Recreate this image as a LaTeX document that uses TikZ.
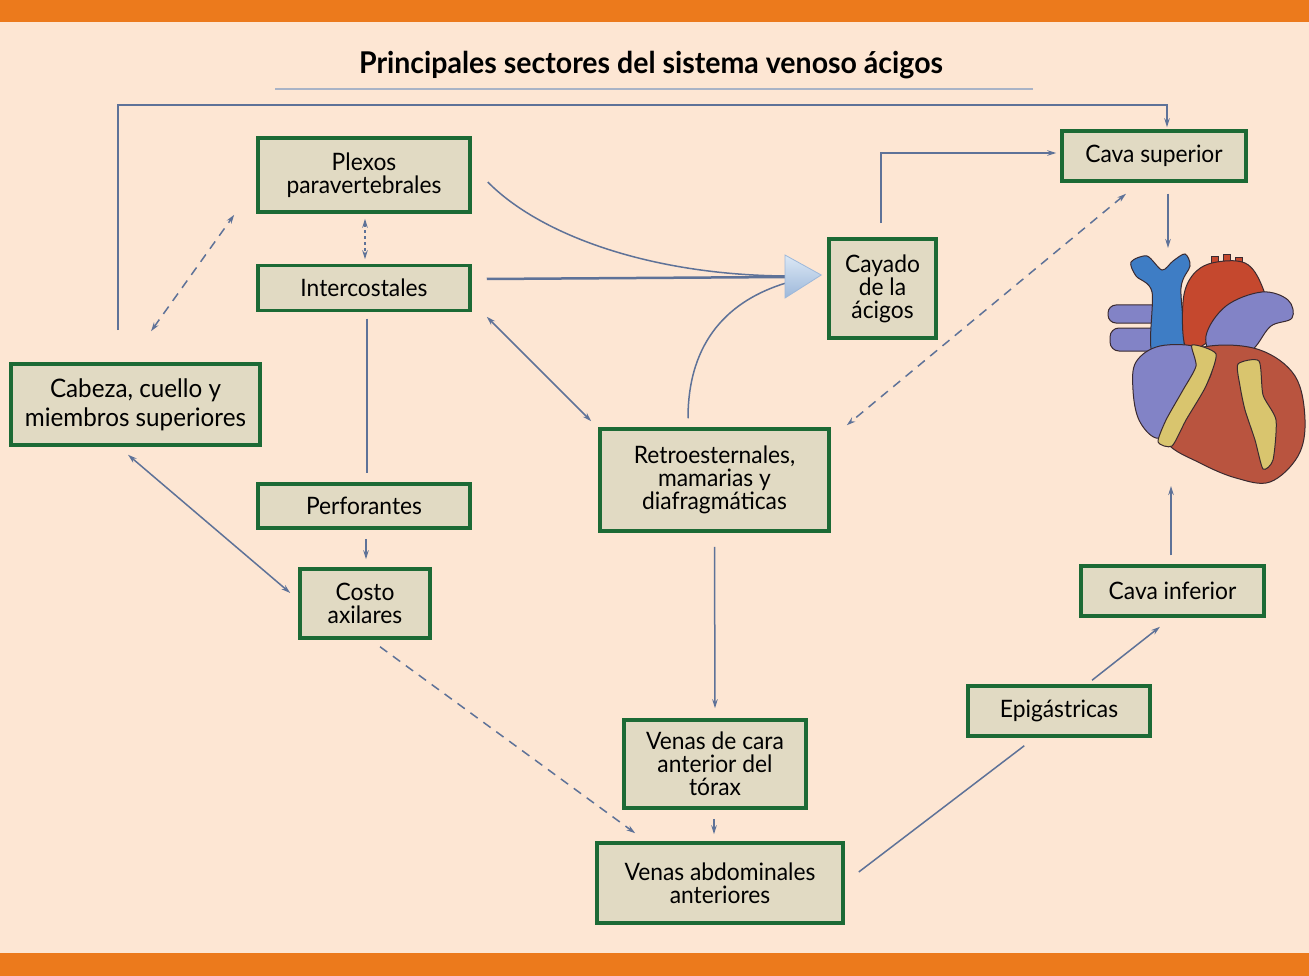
\documentclass[tikz,border=0pt]{standalone}
\usepackage{fontspec}
\setmainfont[FakeStretch=0.95]{Lato}
\usetikzlibrary{arrows.meta}
\definecolor{bgpeach}{HTML}{FDE6D3}
\definecolor{barorange}{HTML}{EC7A1C}
\definecolor{boxfill}{HTML}{E1DAC3}
\definecolor{boxgreen}{HTML}{1C6A35}
\definecolor{linkblue}{HTML}{5E7298}
\definecolor{titleline}{HTML}{A9B3C6}
\definecolor{heartred}{HTML}{B9543F}
\definecolor{aortared}{HTML}{C5482E}
\definecolor{veinblue}{HTML}{3E7DC5}
\definecolor{purp}{HTML}{8283C6}
\definecolor{fat}{HTML}{D9C56E}
\definecolor{outl}{HTML}{3A2A30}
\definecolor{triA}{HTML}{DCE8F5}
\definecolor{triB}{HTML}{9DB8DA}
\begin{document}
\begin{tikzpicture}[x=1pt,y=-1pt,
  box/.style={draw=boxgreen, line width=3.5pt, fill=boxfill, align=center, inner sep=0pt,
    font=\fontsize{24}{23}\selectfont},
  link/.style={draw=linkblue, line width=1.5pt},
  tip/.style={link, -{Stealth[length=9pt,width=5.5pt]}},
  both/.style={link, {Stealth[length=9pt,width=5.5pt]}-{Stealth[length=9pt,width=5.5pt]}},
  dsh/.style={dash pattern=on 9pt off 7pt},
  organ/.style={draw=outl, line width=1pt}]
\fill[bgpeach] (0,0) rectangle (1309,976);
\useasboundingbox (0,0) rectangle (1309,976);
\fill[barorange] (0,0) rectangle (1309,22);
\fill[barorange] (0,953) rectangle (1309,976);

% title
\node (title) at (651,65) {\fontsize{30}{32}\selectfont\bfseries Principales sectores del sistema venoso ácigos};
\draw[titleline, line width=1.2pt] (275,89) -- (1033,89);

% boxes
\node[box, minimum width=212pt, minimum height=74pt] (plexos) at (364,175) {Plexos\\paravertebrales};
\node[box, minimum width=212pt, minimum height=45pt] (inter) at (364,288) {Intercostales};
\node[box, minimum width=249pt, minimum height=81pt, font=\fontsize{25.5}{29}\selectfont] (cabeza) at (135.5,404.5) {Cabeza, cuello y\\miembros superiores};
\node[box, minimum width=212pt, minimum height=44pt] (perf) at (364,506) {Perforantes};
\node[box, minimum width=130pt, minimum height=69pt] (costo) at (365,603.5) {Costo\\axilares};
\node[box, minimum width=229pt, minimum height=102pt] (retro) at (714.5,480) {Retroesternales,\\mamarias y\\diafragmáticas};
\node[box, minimum width=107pt, minimum height=99pt] (cayado) at (882.5,288.5) {Cayado\\de la\\ácigos};
\node[box, minimum width=184pt, minimum height=50pt] (cavasup) at (1154,156) {Cava superior};
\node[box, minimum width=182pt, minimum height=88pt] (cara) at (715,764) {Venas de cara\\anterior del\\tórax};
\node[box, minimum width=246pt, minimum height=80pt] (abd) at (720,883) {Venas abdominales\\anteriores};
\node[box, minimum width=182pt, minimum height=50pt] (epig) at (1059,711) {Epigástricas};
\node[box, minimum width=183pt, minimum height=50pt] (cavainf) at (1172.5,591) {Cava inferior};

% heart
\coordinate (heartTop) at (1168,248);
\coordinate (heartBot) at (1171,486);
\begin{scope}
\draw[organ, fill=purp, rounded corners=8pt] (1108,305) rectangle (1160,323);
\draw[organ, fill=purp, rounded corners=9pt] (1110,328) rectangle (1162,351);
\draw[organ, fill=veinblue] plot[smooth cycle, tension=0.5] coordinates {(1152,352) (1152,292) (1136,276) (1131,262) (1147,256) (1162,270) (1173,261) (1185,254) (1190,266) (1181,288) (1183,352)};
\draw[organ, fill=aortared] (1211,268) rectangle (1218,257) (1223,266) rectangle (1230,255) (1235,268) rectangle (1242,258);
\draw[organ, fill=aortared] plot[smooth cycle, tension=0.6] coordinates {(1186,348) (1183,302) (1192,276) (1212,263) (1245,263) (1262,286) (1268,318) (1250,332) (1226,322) (1208,342)};
\draw[organ, fill=purp] plot[smooth cycle, tension=0.6] coordinates {(1206,336) (1226,306) (1262,292) (1288,300) (1292,318) (1271,326) (1256,346) (1240,362) (1216,362)};
\draw[organ, fill=heartred] plot[smooth cycle, tension=0.6] coordinates {(1165,362) (1210,346) (1260,350) (1295,376) (1305,420) (1298,456) (1270,482) (1236,478) (1200,463) (1166,442) (1152,402)};
\draw[organ, fill=purp] plot[smooth cycle, tension=0.6] coordinates {(1136,362) (1160,346) (1200,348) (1212,370) (1196,400) (1176,430) (1156,438) (1139,420) (1133,390)};
\draw[organ, fill=fat] plot[smooth cycle, tension=0.4] coordinates {(1192,345) (1216,354) (1206,386) (1186,420) (1172,446) (1158,442) (1166,420) (1183,390) (1196,366)};
\draw[organ, fill=fat] plot[smooth cycle, tension=0.4] coordinates {(1238,364) (1259,361) (1263,395) (1276,420) (1273,460) (1263,469) (1255,440) (1245,410) (1240,386)};
\end{scope}

% connectors
\coordinate (loopstart) at (118,330);
\draw[tip] (loopstart) -- (118,105) -| ([xshift=13pt,yshift=2pt]cavasup.north);
\draw[tip] ([xshift=-1.5pt,yshift=14pt]cayado.north) |- ([xshift=-4pt,yshift=3pt]cavasup.west);
\draw[tip] ([xshift=14pt,yshift=-11pt]cavasup.south) -- (heartTop);
\draw[tip] ([xshift=-1.5pt,yshift=9pt]cavainf.north) -- (heartBot);
\draw[both, dsh] ([xshift=-28pt,yshift=-11pt]cavasup.south) -- ([xshift=16pt,yshift=2pt]retro.north east);
\draw[both] ([xshift=15pt,yshift=-4.5pt]inter.south east) -- ([xshift=-7pt,yshift=6pt]retro.north west);
\draw[both, dash pattern=on 3pt off 3pt] ([xshift=1pt,yshift=-5pt]plexos.south) -- ([xshift=1pt,yshift=4.5pt]inter.north);
\draw[both, dsh] ([xshift=15.5pt,yshift=31pt]cabeza.north) -- ([xshift=-22pt,yshift=-1pt]plexos.south west);
\draw[link] ([xshift=3pt,yshift=-6.5pt]inter.south) -- ([xshift=3pt,yshift=9pt]perf.north);
\draw[tip] ([xshift=2pt,yshift=-9pt]perf.south) -- ([xshift=1pt,yshift=8pt]costo.north);
\draw[both] ([xshift=-7.5pt,yshift=-8pt]cabeza.south) -- ([xshift=-8pt,yshift=10.5pt]costo.west);
\draw[tip, dsh] ([xshift=15pt,yshift=-7pt]costo.south) -- ([xshift=40pt,yshift=8pt]abd.north west);
\draw[tip] ([yshift=-14pt]retro.south) -- ([yshift=10pt]cara.north);
\draw[tip] ([xshift=-1pt,yshift=-9pt]cara.south) -- ([xshift=-6pt,yshift=7pt]abd.north);
\draw[link] ([xshift=14pt,yshift=11pt]abd.east) -- ([xshift=58pt,yshift=-8pt]epig.south west);
\draw[tip] ([xshift=33pt,yshift=4pt]epig.north) -- ([xshift=-12.5pt,yshift=-9pt]cavainf.south);

% convergence into Cayado
\coordinate (tribase) at (786,277);
\draw[link, line width=2.5pt] ([xshift=15pt,yshift=9pt]inter.east) -- (tribase);
\draw[link] ([xshift=16pt,yshift=-7pt]plexos.east) .. controls (540,235) and (650,275) .. (786,276);
\draw[link] ([xshift=-26.5pt,yshift=9pt]retro.north) .. controls (688,340) and (730,300) .. (786,283);
\shade[top color=triA, bottom color=triB, draw=triB, line width=0.8pt] (785,255) -- (785,298) -- ([xshift=-6pt,yshift=13.5pt]cayado.west) -- cycle;
\end{tikzpicture}
\end{document}
